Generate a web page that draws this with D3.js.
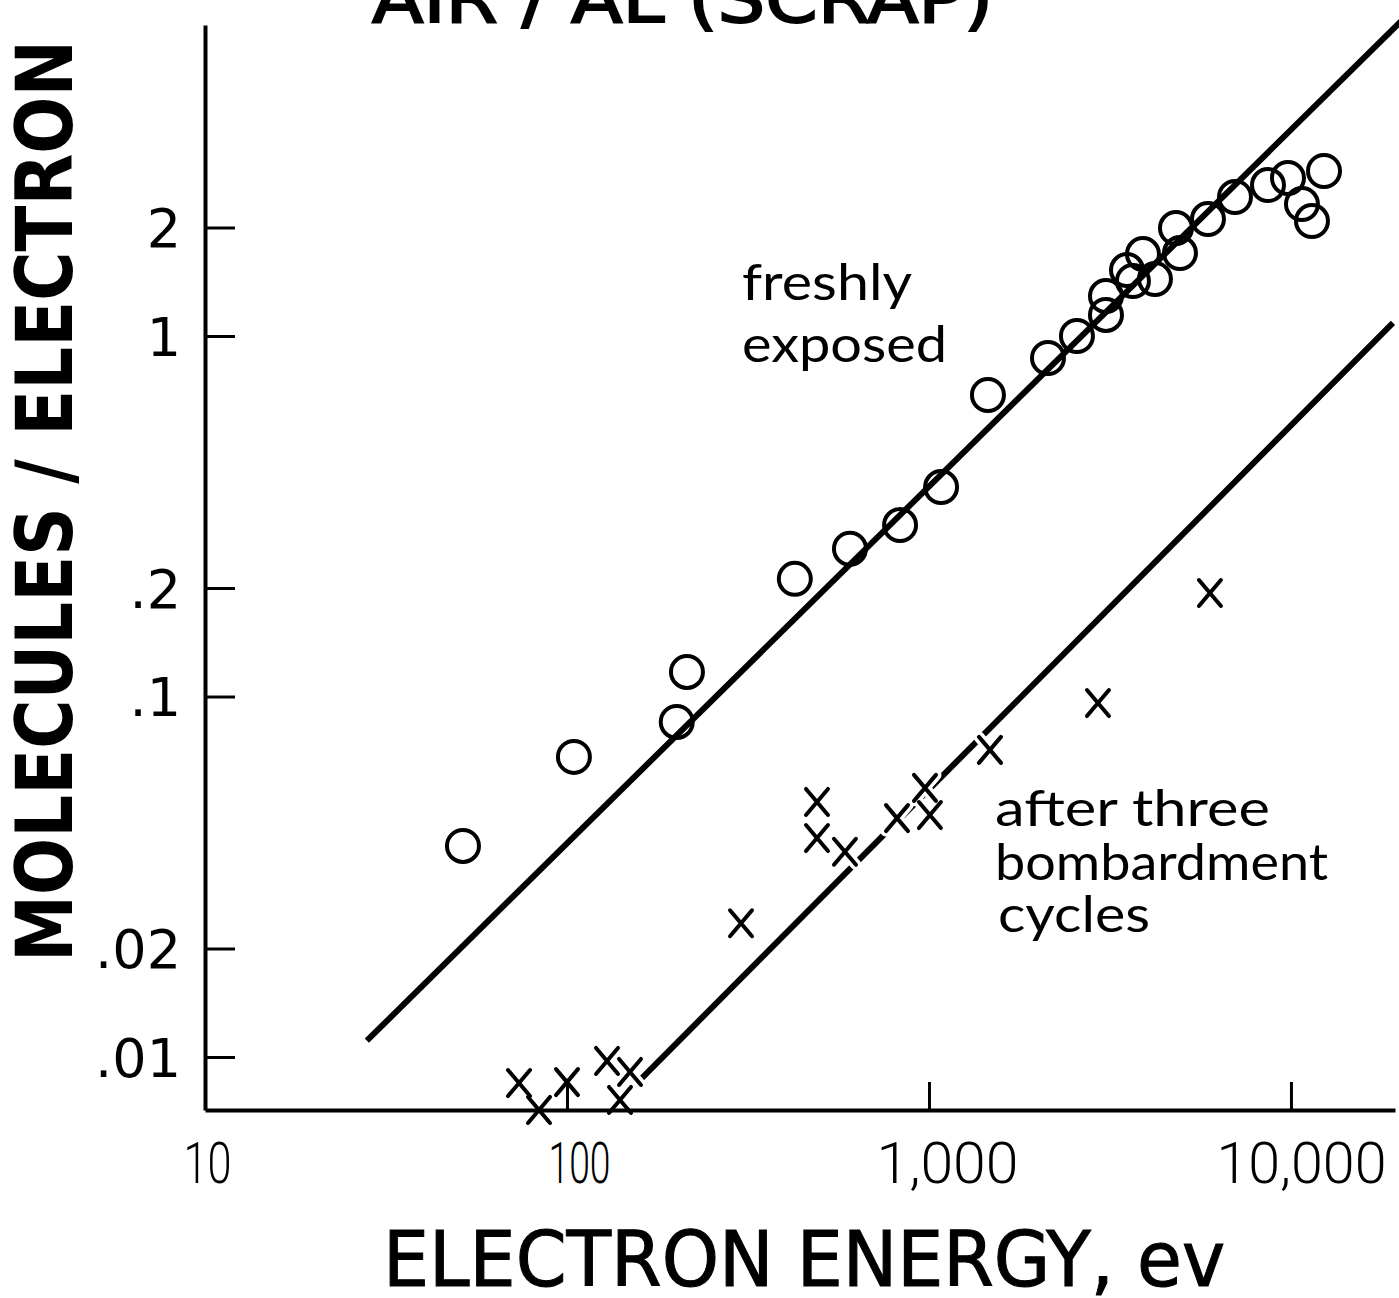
<!DOCTYPE html>
<html><head><meta charset="utf-8">
<script src="https://cdn.jsdelivr.net/npm/d3@7"></script>
<style>body{margin:0;background:#fff}</style>
</head><body><svg id="c" width="1399" height="1298"></svg>
<script>
// ---- data ----
const xTickValues = [10, 100, 1000, 10000];
const xTickLabels = ["10", "100", "1,000", "10,000"];
const yTickValues = [2, 1, 0.2, 0.1, 0.02, 0.01];
const yTickLabels = ["2", "1", ".2", ".1", ".02", ".01"];

// freshly exposed (circles)
const freshE = [51.6, 104.5, 201, 214.5, 426, 605, 832, 1080, 1455, 2132, 2563, 3083, 3083, 3524, 3660, 3901, 4210, 4812, 4936, 5898, 7004, 8640, 9811, 10725, 11430, 12340];
const freshV = [0.0385, 0.068, 0.085, 0.117, 0.212, 0.257, 0.299, 0.381, 0.686, 0.869, 1.0, 1.144, 1.291, 1.524, 1.421, 1.688, 1.439, 1.993, 1.699, 2.111, 2.43, 2.623, 2.744, 2.323, 2.084, 2.869];

// after three bombardment cycles (crosses)
const bombE = [73.7, 83.7, 100, 129, 149.3, 140.1, 302.5, 490.5, 490.5, 586, 816, 975, 1006, 1474, 2930, 5973];
const bombV = [0.00847, 0.00713, 0.00852, 0.00975, 0.00909, 0.0076, 0.0235, 0.051, 0.0405, 0.0371, 0.046, 0.0558, 0.0469, 0.0711, 0.0959, 0.1937];

// fitted lines
const freshLineE = [28, 20500];
const freshLineV = [0.0111, 7.6];
const bombLineE = [159, 19130];
const bombLineV = [0.00863, 1.087];

// plot extent
const xDomain = [10, 19383];
const yDomain = [0.007129, 7.29];

// ---- drawing ----
const svg = d3.select("#c");
const x = d3.scaleLog().domain(xDomain).range([205, 1395]);
const y = d3.scaleLog().domain(yDomain).range([1110, 25]);

const fresh = freshE.map((e, i) => ({E: e, v: freshV[i]}));
const bomb = bombE.map((e, i) => ({E: e, v: bombV[i]}));
const fLine = freshLineE.map((e, i) => ({E: e, v: freshLineV[i]}));
const bLine = bombLineE.map((e, i) => ({E: e, v: bombLineV[i]}));

const line = d3.line().x(d => x(d.E)).y(d => y(d.v));

svg.append("path").datum(fLine).attr("d", line)
  .attr("fill", "none").attr("stroke", "#000").attr("stroke-width", 6);
svg.append("path").datum(bLine).attr("d", line)
  .attr("fill", "none").attr("stroke", "#000").attr("stroke-width", 6);

const crossPath = "M-11,-13L11,13M11,-13L-11,13";

// halos for crosses (break the line under them)
svg.append("g").selectAll("path").data(bomb).join("path")
  .attr("transform", d => `translate(${x(d.E)},${y(d.v)})`)
  .attr("d", crossPath).attr("fill", "none")
  .attr("stroke", "#fff").attr("stroke-width", 11).attr("stroke-linecap", "round");

// axes
const xAxis = d3.axisBottom(x).tickValues(xTickValues)
  .tickFormat((d, i) => xTickLabels[i]).tickSizeInner(-28).tickSizeOuter(0);
const gx = svg.append("g").attr("transform", "translate(0,1110)").call(xAxis);
gx.select(".domain").attr("stroke-width", 4);
gx.selectAll(".tick line").attr("stroke-width", 3);
gx.selectAll(".tick text")
  .attr("y", 73).attr("dy", 0).attr("dx", (d, i) => [2, 12, 18, 10][i])
  .attr("font-family", "Roboto, 'DejaVu Sans', sans-serif")
  .attr("font-weight", 300)
  .attr("font-size", 58).attr("fill", "#000")
  .attr("textLength", (d, i) => [48, 62, 142, 170][i])
  .attr("lengthAdjust", "spacingAndGlyphs");

const yAxis = d3.axisLeft(y).tickValues(yTickValues)
  .tickFormat((d, i) => yTickLabels[i]).tickSizeInner(-30).tickSizeOuter(0).tickPadding(24);
const gy = svg.append("g").attr("transform", "translate(205,0)").call(yAxis);
gy.select(".domain").attr("stroke-width", 4);
gy.selectAll(".tick line").attr("stroke-width", 3);
gy.selectAll(".tick text")
  .attr("font-family", "'DejaVu Sans', sans-serif")
  .attr("font-weight", "normal")
  .attr("font-size", 54).attr("fill", "#000").attr("dy", "0.36em");

// circles
svg.append("g").selectAll("circle").data(fresh).join("circle")
  .attr("cx", d => x(d.E)).attr("cy", d => y(d.v)).attr("r", 16)
  .attr("fill", "none").attr("stroke", "#000").attr("stroke-width", 4);

// crosses
svg.append("g").selectAll("path").data(bomb).join("path")
  .attr("transform", d => `translate(${x(d.E)},${y(d.v)})`)
  .attr("d", crossPath).attr("fill", "none")
  .attr("stroke", "#000").attr("stroke-width", 4).attr("stroke-linecap", "round");

// titles
svg.append("text").text("AIR / AL (SCRAP)")
  .attr("x", 372).attr("y", 22)
  .attr("font-family", "'DejaVu Sans', sans-serif").attr("font-weight", "normal")
  .attr("stroke", "#000").attr("stroke-width", 2)
  .attr("font-size", 66).attr("textLength", 621).attr("lengthAdjust", "spacingAndGlyphs");

svg.append("text").text("MOLECULES / ELECTRON")
  .attr("transform", "translate(72,501) rotate(-90)")
  .attr("text-anchor", "middle")
  .attr("font-family", "'DejaVu Sans', sans-serif").attr("font-weight", "bold")
  .attr("font-size", 78).attr("textLength", 922).attr("lengthAdjust", "spacingAndGlyphs");

svg.append("text").text("ELECTRON  ENERGY, ev")
  .attr("x", 383).attr("y", 1286)
  .attr("font-family", "'DejaVu Sans Condensed', 'DejaVu Sans', sans-serif").attr("font-weight", "normal")
  .attr("stroke", "#000").attr("stroke-width", 1)
  .attr("font-size", 76).attr("textLength", 842).attr("lengthAdjust", "spacingAndGlyphs");

// annotations
const ann = [
  {t: "freshly", x: 742, y: 300, w: 170},
  {t: "exposed", x: 742, y: 362, w: 205},
  {t: "after  three", x: 995, y: 826, w: 275},
  {t: "bombardment", x: 995, y: 880, w: 333},
  {t: "cycles", x: 998, y: 932, w: 152}
];
svg.append("g").selectAll("text").data(ann).join("text")
  .text(d => d.t).attr("x", d => d.x).attr("y", d => d.y)
  .attr("font-family", "'Lato', 'Noto Sans', sans-serif")
  .attr("font-size", 50).attr("textLength", d => d.w).attr("lengthAdjust", "spacingAndGlyphs");
</script></body></html>
